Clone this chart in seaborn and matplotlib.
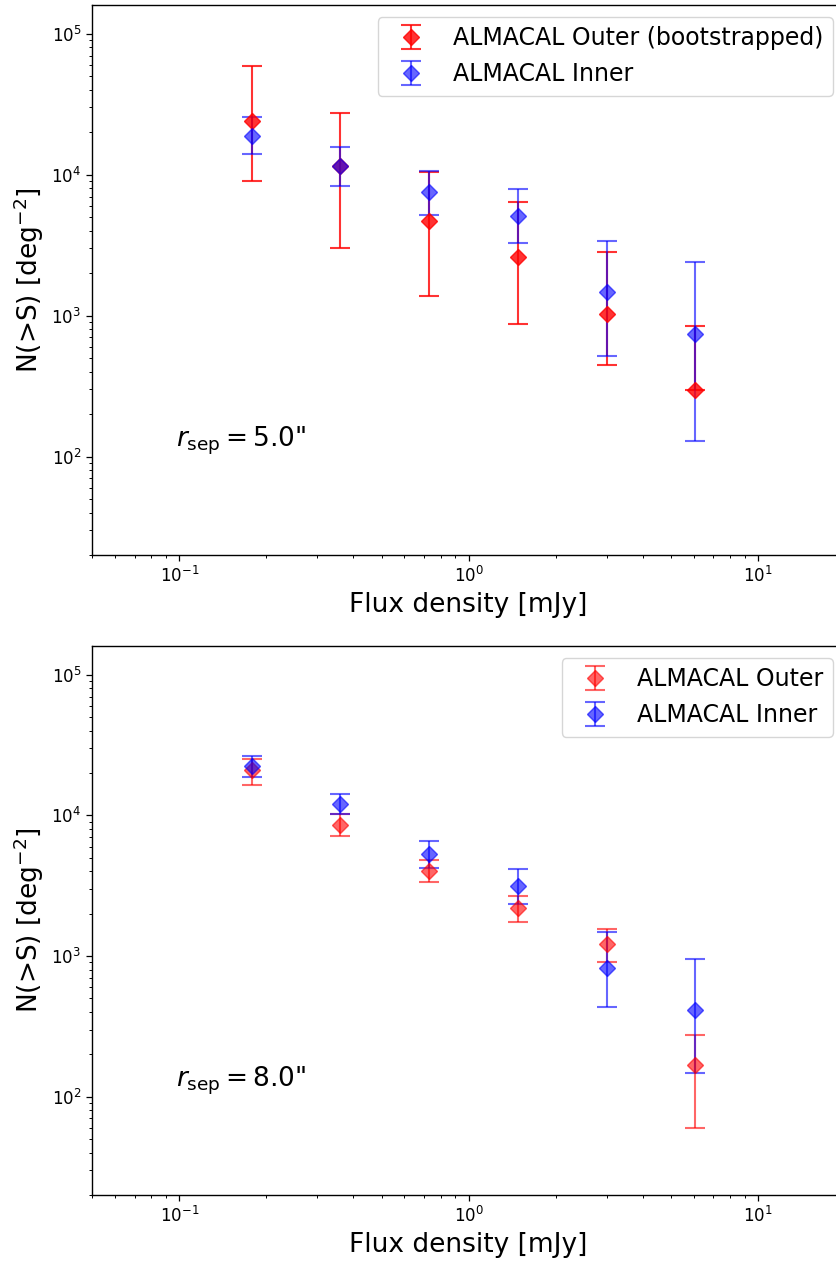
import numpy as np
import matplotlib
matplotlib.use("Agg")
import matplotlib.pyplot as plt
import seaborn as sns

# ---- data ----
flux = [0.178, 0.36, 0.73, 1.48, 3.0, 6.05]

# r_sep = 5.0"
outer5 = [23900, 11600, 4680, 2610, 1030, 298]
outer5_hi = [59400, 27300, 10450, 6370, 2810, 849]
outer5_lo = [9020, 3010, 1384, 869, 446, 298]
inner5 = [18970, 11600, 7540, 5130, 1479, 738]
inner5_hi = [25600, 15670, 10600, 7880, 3390, 2410]
inner5_lo = [13930, 8360, 5210, 3270, 521, 128]

# r_sep = 8.0"
outer8 = [20900, 8540, 4040, 2200, 1223, 167]
outer8_hi = [25300, 10160, 4830, 2690, 1545, 275]
outer8_lo = [16400, 7140, 3340, 1750, 906, 59.5]
inner8 = [22400, 12030, 5320, 3125, 818, 412]
inner8_hi = [26300, 14100, 6610, 4170, 1480, 946]
inner8_lo = [18600, 10160, 4220, 2345, 431, 147]

labels_top = ["ALMACAL Outer (bootstrapped)", "ALMACAL Inner"]
labels_bot = ["ALMACAL Outer", "ALMACAL Inner"]
rsep = ["5.0", "8.0"]

sns.set_style("ticks")
plt.rcParams['font.family'] = ['DejaVu Sans']
plt.rcParams['mathtext.fontset'] = 'dejavusans'
for k in ['text.color', 'axes.labelcolor', 'xtick.color', 'ytick.color', 'axes.edgecolor']:
    plt.rcParams[k] = 'black'

fig = plt.figure(figsize=(8.37, 12.62), dpi=100)
ax1 = fig.add_axes([0.1103, 0.5602, 0.899, 0.4358])
ax2 = fig.add_axes([0.1103, 0.0531, 0.899, 0.4350])


def draw(ax, series, labels, alphas, rs):
    for (y, hi, lo, color), lab, a in zip(series, labels, alphas):
        y = np.array(y, dtype=float)
        yerr = np.vstack([y - np.array(lo, dtype=float), np.array(hi, dtype=float) - y])
        ax.errorbar(flux, y, yerr=yerr, fmt='D', color=color, ms=8, capsize=7,
                    elinewidth=1.5, capthick=1.5, alpha=a, label=lab)
    ax.set_xscale('log')
    ax.set_yscale('log')
    ax.set_xlim(0.05, 20)
    ax.set_ylim(20, 1.6e5)
    ax.set_xlabel('Flux density [mJy]', fontsize=19)
    ax.set_ylabel(r'N(>S) [deg$^{-2}$]', fontsize=19)
    ax.tick_params(axis='both', which='major', labelsize=12, length=4.5, width=0.9)
    ax.tick_params(axis='both', which='minor', length=2.5, width=0.7)
    for s in ax.spines.values():
        s.set_linewidth(1.0)
        s.set_color('black')
    ax.text(0.097, 118, r'$r_{\rm sep} = $' + rs + '"', fontsize=19)
    ax.legend(loc='upper right', fontsize=17, borderaxespad=0.5, frameon=True)


draw(ax1,
     [(outer5, outer5_hi, outer5_lo, 'red'), (inner5, inner5_hi, inner5_lo, 'blue')],
     labels_top, [0.8, 0.6], rsep[0])
draw(ax2,
     [(outer8, outer8_hi, outer8_lo, 'red'), (inner8, inner8_hi, inner8_lo, 'blue')],
     labels_bot, [0.6, 0.6], rsep[1])

fig.savefig('out.png', dpi=100)
